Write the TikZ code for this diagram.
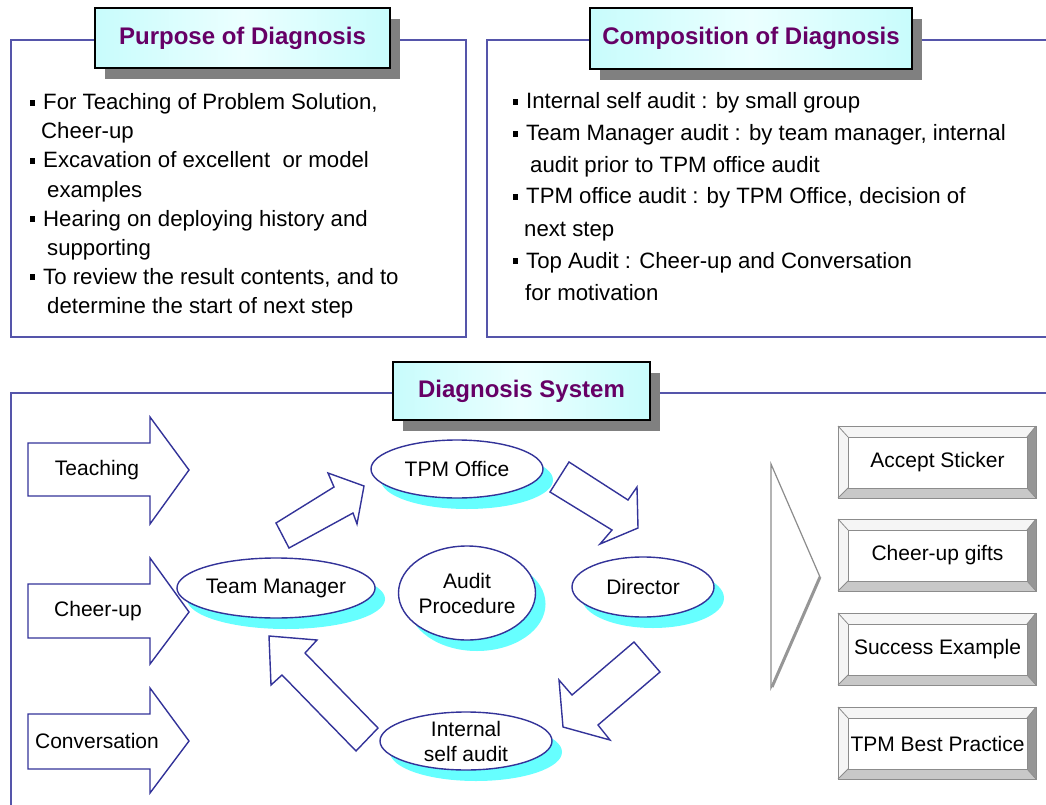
\documentclass[tikz,border=0pt]{standalone}
\usepackage{fontspec}
\setmainfont{Liberation Sans}
\usetikzlibrary{shapes.geometric,shadows}
\definecolor{frameblue}{RGB}{85,85,170}
\definecolor{arrowblue}{RGB}{51,51,153}
\definecolor{titlepurple}{RGB}{102,0,102}
\definecolor{cyanshadow}{RGB}{102,255,255}
\definecolor{titlecyan}{RGB}{200,252,252}
\definecolor{titlelight}{RGB}{235,255,255}
\definecolor{bevlight}{RGB}{245,245,245}
\definecolor{bevmid}{RGB}{200,200,200}
\definecolor{bevdark}{RGB}{150,150,150}
\definecolor{bevline}{RGB}{140,140,140}
\newcommand{\sqb}{\rule[4pt]{5pt}{6pt}\hspace{8pt}}
\newcommand{\bevbox}[4]{%
  \fill[bevlight] (838,#2) rectangle (1036,#2+72);
  \fill[bevdark] (1036,#2) -- (1036,#2+72) -- (1027,#2+62) -- (1027,#2+11) -- cycle;
  \fill[bevmid] (838,#2+72) -- (1036,#2+72) -- (1027,#2+62) -- (848,#2+62) -- cycle;
  \draw[bevline, line width=1pt] (838,#2) rectangle (1036,#2+72);
  \draw[bevline, line width=0.8pt] (838,#2) -- (848,#2+11) (1036,#2) -- (1027,#2+11)
      (838,#2+72) -- (848,#2+62) (1036,#2+72) -- (1027,#2+62);
  \node[bevface] (#1) at (937.5,#2+36.5) {#3};
}
\begin{document}
\begin{tikzpicture}[x=1pt,y=-1pt,
  frame/.style={draw=frameblue, line width=2pt},
  titlebox/.style={draw=black, line width=1.5pt, left color=titlecyan, right color=titlecyan,
     middle color=titlelight, text=titlepurple, font=\fontsize{24}{28}\selectfont\bfseries,
     inner sep=0pt, drop shadow={shadow xshift=10pt, shadow yshift=-11pt, fill=gray, opacity=1}},
  ell/.style={ellipse, draw=arrowblue, line width=1.4pt, fill=white, inner sep=0pt,
     font=\fontsize{21}{26}\selectfont, align=center,
     drop shadow={shadow xshift=10pt, shadow yshift=-11pt, fill=cyanshadow, opacity=1}},
  barrow/.style={draw=arrowblue, line width=1.4pt, fill=white, line join=miter},
  lbl/.style={font=\fontsize{21}{26}\selectfont, inner sep=0pt},
  bodytext/.style={font=\fontsize{22.2}{26}\selectfont, inner sep=0pt, anchor=base west},
  bevface/.style={draw=bevline, line width=0.8pt, fill=white, minimum width=179pt,
     minimum height=51pt, inner sep=0pt, font=\fontsize{21}{26}\selectfont},
]
\useasboundingbox (0,0) rectangle (1046,805);
\begin{scope}
  \clip (0,0) rectangle (1046,805);
  \draw[frame] (11,40) rectangle (466,337);
  \draw[frame] (1060,40) -- (487,40) -- (487,337) -- (1060,337);
  \draw[frame] (1060,393) -- (11,393) -- (11,820);
\end{scope}

% titles
\node[titlebox, minimum width=295pt, minimum height=60pt] (purpose) at (242.5,38) {Purpose of Diagnosis};
\node[titlebox, minimum width=322pt, minimum height=61pt] (compo) at (751,38.5) {Composition of Diagnosis};
\node[titlebox, minimum width=257pt, minimum height=58pt] (system) at (521.5,391) {Diagnosis System};

% left text
\node[bodytext] (l1) at (30,110) {\sqb For Teaching of Problem Solution,};
\node[bodytext] (l2) at (41,139) {Cheer-up};
\node[bodytext] (l3) at (30,168) {\sqb Excavation of excellent\ \ or model};
\node[bodytext] (l4) at (47,197) {examples};
\node[bodytext] (l5) at (30,226) {\sqb Hearing on deploying history and};
\node[bodytext] (l6) at (47,255) {supporting};
\node[bodytext] (l7) at (30,284) {\sqb To review the result contents, and to};
\node[bodytext] (l8) at (47,313) {determine the start of next step};

% right text
\node[bodytext] (r1) at (513,109) {\sqb Internal self audit : by small group};
\node[bodytext] (r2) at (513,141) {\sqb Team Manager audit : by team manager, internal};
\node[bodytext] (r3) at (530,173) {audit prior to TPM office audit};
\node[bodytext] (r4) at (513,204) {\sqb TPM office audit : by TPM Office, decision of};
\node[bodytext] (r5) at (524,236) {next step};
\node[bodytext] (r6) at (513,268) {\sqb Top Audit : Cheer-up and Conversation};
\node[bodytext] (r7) at (525,300) {for motivation};

% left input arrows
\draw[barrow] (28,443) -- (150,443) -- (150,417) -- (189,470) -- (150,524) -- (150,496) -- (28,496) -- cycle;
\node[lbl] (teach) at (97,470) {Teaching};
\draw[barrow] (28,584) -- (150,584) -- (150,558) -- (189,612) -- (150,664) -- (150,638) -- (28,638) -- cycle;
\node[lbl] (cheer) at (98,611) {Cheer-up};
\draw[barrow] (28,714) -- (150,714) -- (150,688) -- (189,741) -- (150,793) -- (150,769) -- (28,769) -- cycle;
\node[lbl] (conv) at (97,741) {Conversation};

% ellipses
\node[ell, minimum width=172pt, minimum height=58pt] (tpm) at (457,469) {TPM Office};
\node[ell, minimum width=134pt, minimum height=94pt] (audit) at (467,593) {Audit\\[-1pt]Procedure};
\node[ell, minimum width=142pt, minimum height=60pt] (dir) at (643,587) {Director};
\node[ell, minimum width=172pt, minimum height=60pt] (tm) at (276,588) {Team Manager};
\node[ell, minimum width=172pt, minimum height=58pt] (isa) at (466,741) {Internal\\[-1pt]self audit};

% cycle block arrows
\draw[barrow] (276,523) -- (334,487) -- (328,473) -- (364,486) -- (357,524) -- (353,513) -- (289,548) -- cycle;
\draw[barrow] (569,462) -- (628,500) -- (637,487) -- (638,528) -- (600,544) -- (612,530) -- (550,492) -- cycle;
\draw[barrow] (634,642) -- (660,672) -- (598,725) -- (610,740) -- (563,727) -- (559,680) -- (572,695) -- cycle;
\draw[barrow] (378,728) -- (305,653) -- (317,640) -- (269,636) -- (271,685) -- (282,675) -- (356,751) -- cycle;

% big chevron
\draw[draw=bevline, line width=1.2pt, fill=white] (771,464) -- (820,577) -- (771,688) -- cycle;
\draw[draw=bevdark, line width=3pt] (820,577) -- (772,687);

% result boxes
\bevbox{accept}{426}{Accept Sticker}{}
\bevbox{gifts}{519}{Cheer-up gifts}{}
\bevbox{success}{613}{Success Example}{}
\bevbox{best}{707}{TPM Best Practice}{}
\end{tikzpicture}
\end{document}
